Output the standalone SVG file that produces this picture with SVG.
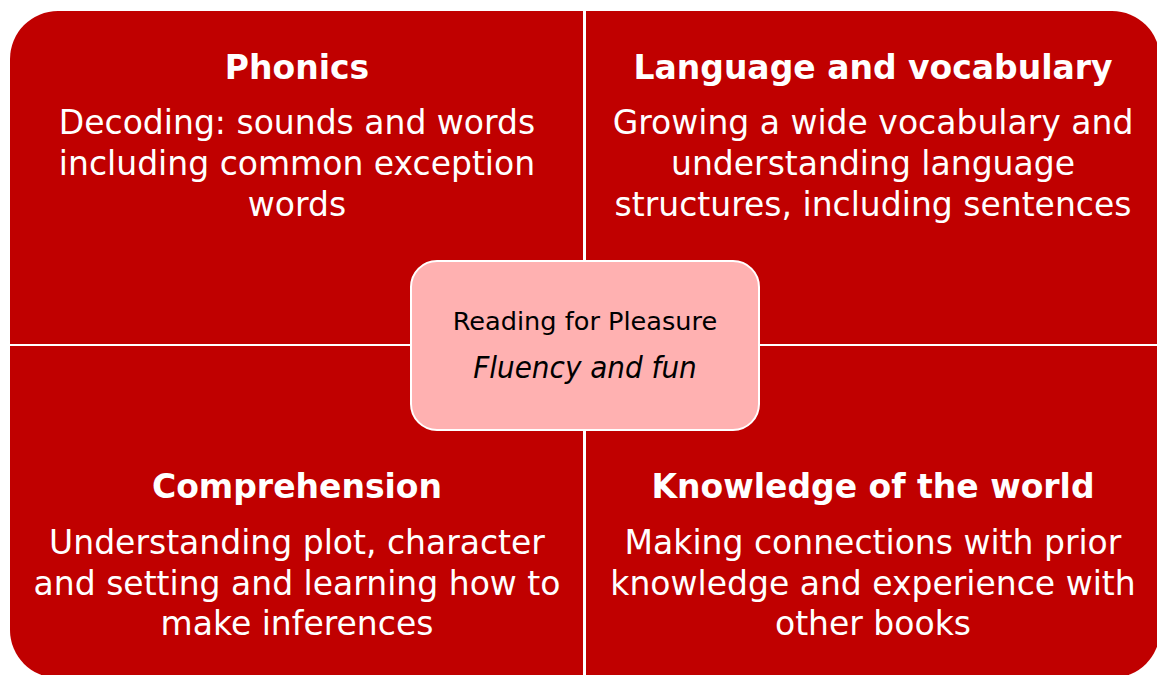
<svg xmlns="http://www.w3.org/2000/svg" width="1157" height="675" viewBox="0 0 1157 675">
<style>
.q{fill:#C00000}
.t{font-family:"DejaVu Sans",Verdana,sans-serif;font-weight:bold;font-size:33px;fill:#fff;text-anchor:middle}
.b{font-family:"DejaVu Sans",Verdana,sans-serif;font-size:33px;fill:#fff;text-anchor:middle}
.c{font-family:"DejaVu Sans",Verdana,sans-serif;font-size:25.6px;fill:#000;text-anchor:middle}
.ci{font-family:"DejaVu Sans Condensed","DejaVu Sans",sans-serif;font-stretch:condensed;font-style:italic;font-size:31px;fill:#000;text-anchor:middle}
</style>
<rect width="1157" height="675" fill="#fff"/>
<g id="phonics">
<path class="q" d="M10,59 A48,48 0 0 1 58,11 L583,11 L583,344 L10,344 Z"/>
<text class="t" x="297" y="79">Phonics</text>
<text class="b" x="297" y="134">Decoding: sounds and words</text>
<text class="b" x="297" y="175">including common exception</text>
<text class="b" x="297" y="216">words</text>
</g>
<g id="language">
<path class="q" d="M586,11 L1112,11 A48,48 0 0 1 1160,59 L1160,344 L586,344 Z"/>
<text class="t" x="873" y="79">Language and vocabulary</text>
<text class="b" x="873" y="134">Growing a wide vocabulary and</text>
<text class="b" x="873" y="175">understanding language</text>
<text class="b" x="873" y="216">structures, including sentences</text>
</g>
<g id="comprehension">
<path class="q" d="M10,346 L583,346 L583,678 L58,678 A48,48 0 0 1 10,630 Z"/>
<text class="t" x="297" y="498">Comprehension</text>
<text class="b" x="297" y="554">Understanding plot, character</text>
<text class="b" x="297" y="595">and setting and learning how to</text>
<text class="b" x="297" y="635">make inferences</text>
</g>
<g id="knowledge">
<path class="q" d="M586,346 L1160,346 L1160,630 A48,48 0 0 1 1112,678 L586,678 Z"/>
<text class="t" x="873" y="498">Knowledge of the world</text>
<text class="b" x="873" y="554">Making connections with prior</text>
<text class="b" x="873" y="595">knowledge and experience with</text>
<text class="b" x="873" y="635">other books</text>
</g>
<g id="centre">
<rect x="411" y="261" width="348" height="169" rx="26" ry="26" fill="#FFB1B1" stroke="#fff" stroke-width="2"/>
<text class="c" x="585" y="330">Reading for Pleasure</text>
<text class="ci" x="585" y="378">Fluency and fun</text>
</g>
<g id="connectors"></g>
</svg>
